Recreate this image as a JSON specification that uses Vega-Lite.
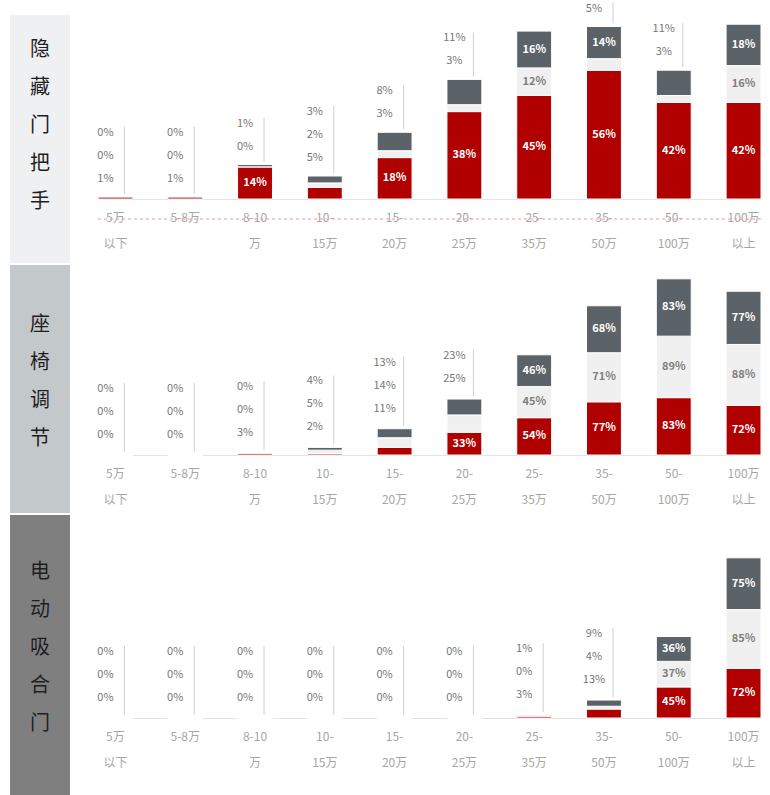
{
  "$schema": "https://vega.github.io/schema/vega-lite/v6.json",
  "padding": {"left": 10, "top": 2, "right": 0, "bottom": 0},
  "background": "white",
  "config": {
    "font": "Noto Sans CJK SC",
    "view": {"stroke": null}
  },
  "data": {
    "values": [
      {"feature": "隐藏门把手", "price": "5万以下", "s1": 1, "s2": 0, "s3": 0},
      {"feature": "隐藏门把手", "price": "5-8万", "s1": 1, "s2": 0, "s3": 0},
      {"feature": "隐藏门把手", "price": "8-10万", "s1": 14, "s2": 0, "s3": 1},
      {"feature": "隐藏门把手", "price": "10-15万", "s1": 5, "s2": 2, "s3": 3},
      {"feature": "隐藏门把手", "price": "15-20万", "s1": 18, "s2": 3, "s3": 8},
      {"feature": "隐藏门把手", "price": "20-25万", "s1": 38, "s2": 3, "s3": 11},
      {"feature": "隐藏门把手", "price": "25-35万", "s1": 45, "s2": 12, "s3": 16},
      {"feature": "隐藏门把手", "price": "35-50万", "s1": 56, "s2": 5, "s3": 14},
      {"feature": "隐藏门把手", "price": "50-100万", "s1": 42, "s2": 3, "s3": 11},
      {"feature": "隐藏门把手", "price": "100万以上", "s1": 42, "s2": 16, "s3": 18},
      {"feature": "座椅调节", "price": "5万以下", "s1": 0, "s2": 0, "s3": 0},
      {"feature": "座椅调节", "price": "5-8万", "s1": 0, "s2": 0, "s3": 0},
      {"feature": "座椅调节", "price": "8-10万", "s1": 3, "s2": 0, "s3": 0},
      {"feature": "座椅调节", "price": "10-15万", "s1": 2, "s2": 5, "s3": 4},
      {"feature": "座椅调节", "price": "15-20万", "s1": 11, "s2": 14, "s3": 13},
      {"feature": "座椅调节", "price": "20-25万", "s1": 33, "s2": 25, "s3": 23},
      {"feature": "座椅调节", "price": "25-35万", "s1": 54, "s2": 45, "s3": 46},
      {"feature": "座椅调节", "price": "35-50万", "s1": 77, "s2": 71, "s3": 68},
      {"feature": "座椅调节", "price": "50-100万", "s1": 83, "s2": 89, "s3": 83},
      {"feature": "座椅调节", "price": "100万以上", "s1": 72, "s2": 88, "s3": 77},
      {"feature": "电动吸合门", "price": "5万以下", "s1": 0, "s2": 0, "s3": 0},
      {"feature": "电动吸合门", "price": "5-8万", "s1": 0, "s2": 0, "s3": 0},
      {"feature": "电动吸合门", "price": "8-10万", "s1": 0, "s2": 0, "s3": 0},
      {"feature": "电动吸合门", "price": "10-15万", "s1": 0, "s2": 0, "s3": 0},
      {"feature": "电动吸合门", "price": "15-20万", "s1": 0, "s2": 0, "s3": 0},
      {"feature": "电动吸合门", "price": "20-25万", "s1": 0, "s2": 0, "s3": 0},
      {"feature": "电动吸合门", "price": "25-35万", "s1": 3, "s2": 0, "s3": 1},
      {"feature": "电动吸合门", "price": "35-50万", "s1": 13, "s2": 4, "s3": 9},
      {"feature": "电动吸合门", "price": "50-100万", "s1": 45, "s2": 37, "s3": 36},
      {"feature": "电动吸合门", "price": "100万以上", "s1": 72, "s2": 85, "s3": 75}
    ]
  },
  "columns": 2,
  "spacing": {"row": 2, "column": 28},
  "bounds": "flush",
  "concat": [
    {
      "width": 60, "height": 248,
      "view": {"fill": "#eef0f2", "stroke": null},
      "transform": [{"filter": "datum.feature == '隐藏门把手'"}, {"aggregate": [{"op": "count", "as": "c"}], "groupby": ["feature"]}, {"calculate": "split(datum.feature, '')", "as": "chars"}],
      "mark": {"type": "text", "fontSize": 20, "lineHeight": 38, "color": "#1f1f1f", "baseline": "middle", "dy": -89},
      "encoding": {
        "x": {"field": "feature", "type": "nominal", "axis": null},
        "y": {"field": "feature", "type": "nominal", "axis": null},
        "text": {"field": "chars"}
      }
    },
    {
      "width": 663, "height": 184,
      "transform": [
        {"filter": "datum.feature == '隐藏门把手'"},
        {"fold": ["s1", "s2", "s3"], "as": ["seg", "value"]},
        {"stack": "value", "groupby": ["price"], "sort": [{"field": "seg", "order": "ascending"}], "as": ["v0", "v1"]},
        {"joinaggregate": [{"op": "sum", "field": "value", "as": "total"}], "groupby": ["price"]},
        {"calculate": "(datum.v0 + datum.v1) / 2", "as": "mid"},
        {"calculate": "datum.value + '%'", "as": "lab"},
        {"calculate": "datum.value < 12", "as": "small"}
      ],
      "layer": [
        {
          "transform": [{"aggregate": [{"op": "count", "as": "c"}]}],
          "mark": {"type": "rule", "color": "#e99b9b", "strokeDash": [3, 3]},
          "encoding": {"y": {"datum": -8.7, "type": "quantitative", "scale": {"domain": [0, 80], "nice": false}}}
        },
        {
          "encoding": {
            "x": {"field": "price", "type": "nominal",
              "sort": ["5万以下", "5-8万", "8-10万", "10-15万", "15-20万", "20-25万", "25-35万", "35-50万", "50-100万", "100万以上"],
              "scale": {"paddingInner": 0.5, "paddingOuter": 0},
              "axis": {"title": null, "labelAngle": 0, "ticks": false, "domainColor": "#e3e3e3", "labelColor": "#a6a6a6", "labelFontSize": 12, "labelPadding": 13, "labelLineHeight": 26,
                "labelExpr": "indexof(datum.value,'以')>0 ? [slice(datum.value,0,indexof(datum.value,'以')), slice(datum.value,indexof(datum.value,'以'))] : datum.value=='5-8万' ? datum.value : datum.value=='8-10万' ? ['8-10','万'] : [slice(datum.value,0,indexof(datum.value,'-')+1), slice(datum.value,indexof(datum.value,'-')+1)]"}}
          },
          "layer": [
            {
              "mark": {"type": "bar", "stroke": "white", "strokeWidth": 1},
              "encoding": {
                "y": {"field": "v0", "type": "quantitative", "scale": {"domain": [0, 80], "nice": false}, "axis": null},
                "y2": {"field": "v1"},
                "color": {"field": "seg", "type": "nominal", "scale": {"domain": ["s1", "s2", "s3"], "range": ["#b00000", "#f0f0f0", "#5c6368"]}, "legend": null}
              }
            },
            {
              "transform": [{"filter": "!datum.small"}],
              "mark": {"type": "text", "fontSize": 11, "fontWeight": "bold", "baseline": "middle"},
              "encoding": {
                "y": {"field": "mid", "type": "quantitative", "scale": {"domain": [0, 80], "nice": false}},
                "text": {"field": "lab"},
                "color": {"condition": {"test": "datum.seg == 's2'", "value": "#7f7f7f"}, "value": "white"}
              }
            },
            {
              "transform": [{"filter": "datum.small"}, {"window": [{"op": "row_number", "as": "rk"}], "groupby": ["price"], "sort": [{"field": "seg", "order": "ascending"}]}, {"filter": "datum.rk == 1"}],
              "mark": {"type": "text", "fontSize": 11, "dx": -10, "dy": -18, "color": "#777777", "baseline": "middle"},
              "encoding": {"y": {"field": "total", "type": "quantitative", "scale": {"domain": [0, 80], "nice": false}}, "text": {"field": "lab"}}
            },
            {
              "transform": [{"filter": "datum.small"}, {"window": [{"op": "row_number", "as": "rk"}], "groupby": ["price"], "sort": [{"field": "seg", "order": "ascending"}]}, {"filter": "datum.rk == 2"}],
              "mark": {"type": "text", "fontSize": 11, "dx": -10, "dy": -41, "color": "#777777", "baseline": "middle"},
              "encoding": {"y": {"field": "total", "type": "quantitative", "scale": {"domain": [0, 80], "nice": false}}, "text": {"field": "lab"}}
            },
            {
              "transform": [{"filter": "datum.small"}, {"window": [{"op": "row_number", "as": "rk"}], "groupby": ["price"], "sort": [{"field": "seg", "order": "ascending"}]}, {"filter": "datum.rk == 3"}],
              "mark": {"type": "text", "fontSize": 11, "dx": -10, "dy": -64, "color": "#777777", "baseline": "middle"},
              "encoding": {"y": {"field": "total", "type": "quantitative", "scale": {"domain": [0, 80], "nice": false}}, "text": {"field": "lab"}}
            },
            {
              "transform": [{"filter": "datum.small"}, {"aggregate": [{"op": "count", "as": "n"}, {"op": "max", "field": "total", "as": "top"}], "groupby": ["price"]}, {"filter": "datum.n == 1"}],
              "mark": {"type": "rule", "color": "#cfcfcf", "xOffset": 9, "yOffset": -3, "y2Offset": -24},
              "encoding": {"y": {"field": "top", "type": "quantitative", "scale": {"domain": [0, 80], "nice": false}}, "y2": {"field": "top"}}
            },
            {
              "transform": [{"filter": "datum.small"}, {"aggregate": [{"op": "count", "as": "n"}, {"op": "max", "field": "total", "as": "top"}], "groupby": ["price"]}, {"filter": "datum.n == 2"}],
              "mark": {"type": "rule", "color": "#cfcfcf", "xOffset": 9, "yOffset": -3, "y2Offset": -47},
              "encoding": {"y": {"field": "top", "type": "quantitative", "scale": {"domain": [0, 80], "nice": false}}, "y2": {"field": "top"}}
            },
            {
              "transform": [{"filter": "datum.small"}, {"aggregate": [{"op": "count", "as": "n"}, {"op": "max", "field": "total", "as": "top"}], "groupby": ["price"]}, {"filter": "datum.n == 3"}],
              "mark": {"type": "rule", "color": "#cfcfcf", "xOffset": 9, "yOffset": -3, "y2Offset": -70},
              "encoding": {"y": {"field": "top", "type": "quantitative", "scale": {"domain": [0, 80], "nice": false}}, "y2": {"field": "top"}}
            }
          ]
        }
      ]
    },
    {
      "width": 60, "height": 248,
      "view": {"fill": "#c3c8cb", "stroke": null},
      "transform": [{"filter": "datum.feature == '座椅调节'"}, {"aggregate": [{"op": "count", "as": "c"}], "groupby": ["feature"]}, {"calculate": "split(datum.feature, '')", "as": "chars"}],
      "mark": {"type": "text", "fontSize": 20, "lineHeight": 38, "color": "#1f1f1f", "baseline": "middle", "dy": -64},
      "encoding": {
        "x": {"field": "feature", "type": "nominal", "axis": null},
        "y": {"field": "feature", "type": "nominal", "axis": null},
        "text": {"field": "chars"}
      }
    },
    {
      "width": 663, "height": 190,
      "transform": [
        {"filter": "datum.feature == '座椅调节'"},
        {"fold": ["s1", "s2", "s3"], "as": ["seg", "value"]},
        {"stack": "value", "groupby": ["price"], "sort": [{"field": "seg", "order": "ascending"}], "as": ["v0", "v1"]},
        {"joinaggregate": [{"op": "sum", "field": "value", "as": "total"}], "groupby": ["price"]},
        {"calculate": "(datum.v0 + datum.v1) / 2", "as": "mid"},
        {"calculate": "datum.value + '%'", "as": "lab"},
        {"calculate": "datum.value < 26", "as": "small"}
      ],
      "encoding": {
        "x": {"field": "price", "type": "nominal",
          "sort": ["5万以下", "5-8万", "8-10万", "10-15万", "15-20万", "20-25万", "25-35万", "35-50万", "50-100万", "100万以上"],
          "scale": {"paddingInner": 0.5, "paddingOuter": 0},
          "axis": {"title": null, "labelAngle": 0, "ticks": false, "domainColor": "#e3e3e3", "labelColor": "#a6a6a6", "labelFontSize": 12, "labelPadding": 13, "labelLineHeight": 26,
            "labelExpr": "indexof(datum.value,'以')>0 ? [slice(datum.value,0,indexof(datum.value,'以')), slice(datum.value,indexof(datum.value,'以'))] : datum.value=='5-8万' ? datum.value : datum.value=='8-10万' ? ['8-10','万'] : [slice(datum.value,0,indexof(datum.value,'-')+1), slice(datum.value,indexof(datum.value,'-')+1)]"}}
      },
      "layer": [
        {
          "mark": {"type": "bar", "stroke": "white", "strokeWidth": 1},
          "encoding": {
            "y": {"field": "v0", "type": "quantitative", "scale": {"domain": [0, 275], "nice": false}, "axis": null},
            "y2": {"field": "v1"},
            "color": {"field": "seg", "type": "nominal", "scale": {"domain": ["s1", "s2", "s3"], "range": ["#b00000", "#f0f0f0", "#5c6368"]}, "legend": null}
          }
        },
        {
          "transform": [{"filter": "!datum.small"}],
          "mark": {"type": "text", "fontSize": 11, "fontWeight": "bold", "baseline": "middle"},
          "encoding": {
            "y": {"field": "mid", "type": "quantitative", "scale": {"domain": [0, 275], "nice": false}},
            "text": {"field": "lab"},
            "color": {"condition": {"test": "datum.seg == 's2'", "value": "#7f7f7f"}, "value": "white"}
          }
        },
        {
          "transform": [{"filter": "datum.small"}, {"window": [{"op": "row_number", "as": "rk"}], "groupby": ["price"], "sort": [{"field": "seg", "order": "ascending"}]}, {"filter": "datum.rk == 1"}],
          "mark": {"type": "text", "fontSize": 11, "dx": -10, "dy": -20, "color": "#777777", "baseline": "middle"},
          "encoding": {"y": {"field": "total", "type": "quantitative", "scale": {"domain": [0, 275], "nice": false}}, "text": {"field": "lab"}}
        },
        {
          "transform": [{"filter": "datum.small"}, {"window": [{"op": "row_number", "as": "rk"}], "groupby": ["price"], "sort": [{"field": "seg", "order": "ascending"}]}, {"filter": "datum.rk == 2"}],
          "mark": {"type": "text", "fontSize": 11, "dx": -10, "dy": -43, "color": "#777777", "baseline": "middle"},
          "encoding": {"y": {"field": "total", "type": "quantitative", "scale": {"domain": [0, 275], "nice": false}}, "text": {"field": "lab"}}
        },
        {
          "transform": [{"filter": "datum.small"}, {"window": [{"op": "row_number", "as": "rk"}], "groupby": ["price"], "sort": [{"field": "seg", "order": "ascending"}]}, {"filter": "datum.rk == 3"}],
          "mark": {"type": "text", "fontSize": 11, "dx": -10, "dy": -66, "color": "#777777", "baseline": "middle"},
          "encoding": {"y": {"field": "total", "type": "quantitative", "scale": {"domain": [0, 275], "nice": false}}, "text": {"field": "lab"}}
        },
        {
          "transform": [{"filter": "datum.small"}, {"aggregate": [{"op": "count", "as": "n"}, {"op": "max", "field": "total", "as": "top"}], "groupby": ["price"]}, {"filter": "datum.n == 1"}],
          "mark": {"type": "rule", "color": "#cfcfcf", "xOffset": 9, "yOffset": -3, "y2Offset": -26},
          "encoding": {"y": {"field": "top", "type": "quantitative", "scale": {"domain": [0, 275], "nice": false}}, "y2": {"field": "top"}}
        },
        {
          "transform": [{"filter": "datum.small"}, {"aggregate": [{"op": "count", "as": "n"}, {"op": "max", "field": "total", "as": "top"}], "groupby": ["price"]}, {"filter": "datum.n == 2"}],
          "mark": {"type": "rule", "color": "#cfcfcf", "xOffset": 9, "yOffset": -3, "y2Offset": -49},
          "encoding": {"y": {"field": "top", "type": "quantitative", "scale": {"domain": [0, 275], "nice": false}}, "y2": {"field": "top"}}
        },
        {
          "transform": [{"filter": "datum.small"}, {"aggregate": [{"op": "count", "as": "n"}, {"op": "max", "field": "total", "as": "top"}], "groupby": ["price"]}, {"filter": "datum.n == 3"}],
          "mark": {"type": "rule", "color": "#cfcfcf", "xOffset": 9, "yOffset": -3, "y2Offset": -72},
          "encoding": {"y": {"field": "top", "type": "quantitative", "scale": {"domain": [0, 275], "nice": false}}, "y2": {"field": "top"}}
        }
      ]
    },
    {
      "width": 60, "height": 280,
      "view": {"fill": "#7f7f7f", "stroke": null},
      "transform": [{"filter": "datum.feature == '电动吸合门'"}, {"aggregate": [{"op": "count", "as": "c"}], "groupby": ["feature"]}, {"calculate": "split(datum.feature, '')", "as": "chars"}],
      "mark": {"type": "text", "fontSize": 20, "lineHeight": 38, "color": "#1f1f1f", "baseline": "middle", "dy": -83},
      "encoding": {
        "x": {"field": "feature", "type": "nominal", "axis": null},
        "y": {"field": "feature", "type": "nominal", "axis": null},
        "text": {"field": "chars"}
      }
    },
    {
      "width": 663, "height": 203,
      "transform": [
        {"filter": "datum.feature == '电动吸合门'"},
        {"fold": ["s1", "s2", "s3"], "as": ["seg", "value"]},
        {"stack": "value", "groupby": ["price"], "sort": [{"field": "seg", "order": "ascending"}], "as": ["v0", "v1"]},
        {"joinaggregate": [{"op": "sum", "field": "value", "as": "total"}], "groupby": ["price"]},
        {"calculate": "(datum.v0 + datum.v1) / 2", "as": "mid"},
        {"calculate": "datum.value + '%'", "as": "lab"},
        {"calculate": "datum.value < 26", "as": "small"}
      ],
      "encoding": {
        "x": {"field": "price", "type": "nominal",
          "sort": ["5万以下", "5-8万", "8-10万", "10-15万", "15-20万", "20-25万", "25-35万", "35-50万", "50-100万", "100万以上"],
          "scale": {"paddingInner": 0.5, "paddingOuter": 0},
          "axis": {"title": null, "labelAngle": 0, "ticks": false, "domainColor": "#e3e3e3", "labelColor": "#a6a6a6", "labelFontSize": 12, "labelPadding": 13, "labelLineHeight": 26,
            "labelExpr": "indexof(datum.value,'以')>0 ? [slice(datum.value,0,indexof(datum.value,'以')), slice(datum.value,indexof(datum.value,'以'))] : datum.value=='5-8万' ? datum.value : datum.value=='8-10万' ? ['8-10','万'] : [slice(datum.value,0,indexof(datum.value,'-')+1), slice(datum.value,indexof(datum.value,'-')+1)]"}}
      },
      "layer": [
        {
          "mark": {"type": "bar", "stroke": "white", "strokeWidth": 1},
          "encoding": {
            "y": {"field": "v0", "type": "quantitative", "scale": {"domain": [0, 294], "nice": false}, "axis": null},
            "y2": {"field": "v1"},
            "color": {"field": "seg", "type": "nominal", "scale": {"domain": ["s1", "s2", "s3"], "range": ["#b00000", "#f0f0f0", "#5c6368"]}, "legend": null}
          }
        },
        {
          "transform": [{"filter": "!datum.small"}],
          "mark": {"type": "text", "fontSize": 11, "fontWeight": "bold", "baseline": "middle"},
          "encoding": {
            "y": {"field": "mid", "type": "quantitative", "scale": {"domain": [0, 294], "nice": false}},
            "text": {"field": "lab"},
            "color": {"condition": {"test": "datum.seg == 's2'", "value": "#7f7f7f"}, "value": "white"}
          }
        },
        {
          "transform": [{"filter": "datum.small"}, {"window": [{"op": "row_number", "as": "rk"}], "groupby": ["price"], "sort": [{"field": "seg", "order": "ascending"}]}, {"filter": "datum.rk == 1"}],
          "mark": {"type": "text", "fontSize": 11, "dx": -10, "dy": -20, "color": "#777777", "baseline": "middle"},
          "encoding": {"y": {"field": "total", "type": "quantitative", "scale": {"domain": [0, 294], "nice": false}}, "text": {"field": "lab"}}
        },
        {
          "transform": [{"filter": "datum.small"}, {"window": [{"op": "row_number", "as": "rk"}], "groupby": ["price"], "sort": [{"field": "seg", "order": "ascending"}]}, {"filter": "datum.rk == 2"}],
          "mark": {"type": "text", "fontSize": 11, "dx": -10, "dy": -43, "color": "#777777", "baseline": "middle"},
          "encoding": {"y": {"field": "total", "type": "quantitative", "scale": {"domain": [0, 294], "nice": false}}, "text": {"field": "lab"}}
        },
        {
          "transform": [{"filter": "datum.small"}, {"window": [{"op": "row_number", "as": "rk"}], "groupby": ["price"], "sort": [{"field": "seg", "order": "ascending"}]}, {"filter": "datum.rk == 3"}],
          "mark": {"type": "text", "fontSize": 11, "dx": -10, "dy": -66, "color": "#777777", "baseline": "middle"},
          "encoding": {"y": {"field": "total", "type": "quantitative", "scale": {"domain": [0, 294], "nice": false}}, "text": {"field": "lab"}}
        },
        {
          "transform": [{"filter": "datum.small"}, {"aggregate": [{"op": "count", "as": "n"}, {"op": "max", "field": "total", "as": "top"}], "groupby": ["price"]}, {"filter": "datum.n == 1"}],
          "mark": {"type": "rule", "color": "#cfcfcf", "xOffset": 9, "yOffset": -3, "y2Offset": -26},
          "encoding": {"y": {"field": "top", "type": "quantitative", "scale": {"domain": [0, 294], "nice": false}}, "y2": {"field": "top"}}
        },
        {
          "transform": [{"filter": "datum.small"}, {"aggregate": [{"op": "count", "as": "n"}, {"op": "max", "field": "total", "as": "top"}], "groupby": ["price"]}, {"filter": "datum.n == 2"}],
          "mark": {"type": "rule", "color": "#cfcfcf", "xOffset": 9, "yOffset": -3, "y2Offset": -49},
          "encoding": {"y": {"field": "top", "type": "quantitative", "scale": {"domain": [0, 294], "nice": false}}, "y2": {"field": "top"}}
        },
        {
          "transform": [{"filter": "datum.small"}, {"aggregate": [{"op": "count", "as": "n"}, {"op": "max", "field": "total", "as": "top"}], "groupby": ["price"]}, {"filter": "datum.n == 3"}],
          "mark": {"type": "rule", "color": "#cfcfcf", "xOffset": 9, "yOffset": -3, "y2Offset": -72},
          "encoding": {"y": {"field": "top", "type": "quantitative", "scale": {"domain": [0, 294], "nice": false}}, "y2": {"field": "top"}}
        }
      ]
    }
  ]
}
